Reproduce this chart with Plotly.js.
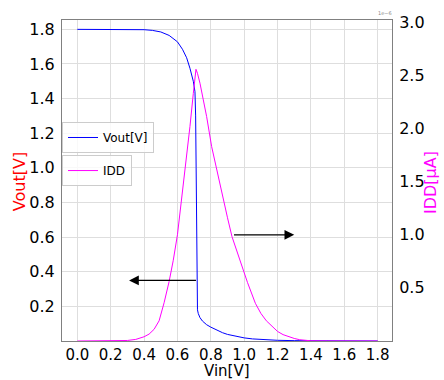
<!DOCTYPE html>
<html>
<head>
<meta charset="utf-8">
<script src="https://cdn.plot.ly/plotly-3.0.1.min.js"></script>
<style>html,body{margin:0;padding:0;background:#fff;}#chart{width:444px;height:380px;}</style>
</head>
<body>
<div id="chart"></div>
<script>
// Vout transfer curve
const vinVout = [0, 0.1, 0.2, 0.3, 0.4, 0.45, 0.5, 0.55, 0.6, 0.63, 0.655, 0.675, 0.695, 0.705, 0.709, 0.712, 0.715, 0.717, 0.72, 0.725, 0.735, 0.75, 0.775, 0.8, 0.835, 0.87, 0.9, 0.95, 1.0, 1.05, 1.1, 1.2, 1.3, 1.4, 1.5, 1.6, 1.7, 1.8];
const vout    = [1.8, 1.8, 1.8, 1.8, 1.798, 1.794, 1.785, 1.765, 1.728, 1.685, 1.636, 1.575, 1.50, 1.44, 1.30, 1.0, 0.5, 0.22, 0.18, 0.158, 0.135, 0.115, 0.094, 0.08, 0.063, 0.048, 0.038, 0.026, 0.018, 0.012, 0.008, 0.004, 0.002, 0.001, 0.0005, 0.0003, 0.0002, 0.0001];
// Supply current (µA)
const vinIdd = [0, 0.1, 0.2, 0.3, 0.35, 0.4, 0.43, 0.46, 0.49, 0.52, 0.55, 0.575, 0.6, 0.632, 0.655, 0.675, 0.695, 0.705, 0.711, 0.72, 0.735, 0.755, 0.775, 0.805, 0.835, 0.867, 0.9, 0.927, 0.95, 0.987, 1.02, 1.067, 1.1, 1.133, 1.167, 1.2, 1.233, 1.267, 1.3, 1.333, 1.366, 1.4, 1.5, 1.6, 1.7, 1.8];
const idd    = [0, 0.0005, 0.001, 0.005, 0.015, 0.04, 0.065, 0.11, 0.19, 0.36, 0.56, 0.76, 1.0, 1.42, 1.76, 2.02, 2.33, 2.48, 2.558, 2.52, 2.427, 2.27, 2.112, 1.83, 1.61, 1.39, 1.16, 0.982, 0.87, 0.70, 0.55, 0.355, 0.26, 0.19, 0.135, 0.09, 0.06, 0.04, 0.024, 0.012, 0.005, 0.002, 0.0005, 0.0002, 0.0001, 0];
const xTicks = [0, 0.2, 0.4, 0.6, 0.8, 1.0, 1.2, 1.4, 1.6, 1.8];
const yTicks = [0.2, 0.4, 0.6, 0.8, 1.0, 1.2, 1.4, 1.6, 1.8];
const y2Ticks = [0.5, 1.0, 1.5, 2.0, 2.5, 3.0];

const F = 'DejaVu Sans, sans-serif';
const traces = [
  {x: vinVout, y: vout, type: 'scatter', mode: 'lines', name: 'Vout[V]',
   line: {color: '#0000ff', width: 1}, yaxis: 'y', legend: 'legend'},
  {x: vinIdd, y: idd, type: 'scatter', mode: 'lines', name: 'IDD',
   line: {color: '#ff00ff', width: 1}, yaxis: 'y2', legend: 'legend2'}
];
const axisCommon = {showline: true, linecolor: '#808080', linewidth: 1, zeroline: false,
  ticks: 'outside', ticklen: 3, tickcolor: 'rgba(0,0,0,0)', automargin: false,
  tickfont: {family: F, size: 16, color: '#000'}};
const layout = {
  width: 444, height: 380,
  margin: {l: 62, r: 52, t: 20, b: 39},
  paper_bgcolor: '#fff', plot_bgcolor: '#fff',
  font: {family: F},
  xaxis: Object.assign({}, axisCommon, {range: [-0.092, 1.886], tickvals: xTicks, ticks: '',
    tickfont: {family: F, size: 15, color: '#000'},
    ticktext: xTicks.map(v => v.toFixed(1)), mirror: true, showgrid: true, gridcolor: '#dedede'}),
  yaxis: Object.assign({}, axisCommon, {range: [0, 1.854], tickvals: yTicks,
    ticktext: yTicks.map(v => v.toFixed(1)), showgrid: true, gridcolor: '#dedede'}),
  yaxis2: Object.assign({}, axisCommon, {range: [0, 3.022], tickvals: y2Ticks,
    ticktext: y2Ticks.map(v => v.toFixed(1)), overlaying: 'y', side: 'right', showgrid: false}),
  showlegend: true,
  legend: {x: 0, xanchor: 'left', y: 0.634, yanchor: 'middle', bgcolor: 'rgba(255,255,255,0.8)',
    bordercolor: '#cccccc', borderwidth: 1, font: {family: F, size: 12, color: '#000'}},
  legend2: {x: 0, xanchor: 'left', y: 0.531, yanchor: 'middle', bgcolor: 'rgba(255,255,255,0.8)',
    bordercolor: '#cccccc', borderwidth: 1, font: {family: F, size: 12, color: '#000'}},
  annotations: [
    {x: 0.31, y: 0.35, xref: 'x', yref: 'y', ax: 0.72, ay: 0.35, axref: 'x', ayref: 'y',
     showarrow: true, arrowhead: 2, arrowsize: 1.5, arrowwidth: 1.3, arrowcolor: '#000', text: ''},
    {x: 1.3, y: 1.0, xref: 'x', yref: 'y2', ax: 0.93, ay: 1.0, axref: 'x', ayref: 'y2',
     showarrow: true, arrowhead: 2, arrowsize: 1.5, arrowwidth: 1.3, arrowcolor: '#000', text: ''},
    {x: 0.979, y: 1.005, xref: 'paper', yref: 'paper', text: '1e−6', showarrow: false,
     xanchor: 'center', yanchor: 'bottom', font: {family: F, size: 5, color: '#888'}},
    // axis titles
    {x: 0.5, y: -0.094, xref: 'paper', yref: 'paper', text: 'Vin[V]', showarrow: false,
     xanchor: 'center', yanchor: 'middle', font: {family: F, size: 15, color: '#000'}},
    {x: -0.13, y: 0.495, xref: 'paper', yref: 'paper', text: 'Vout[V]', showarrow: false, textangle: -90,
     xanchor: 'center', yanchor: 'middle', font: {family: F, size: 16, color: '#ff0000'}},
    {x: 1.115, y: 0.495, xref: 'paper', yref: 'paper', text: 'IDD[μA]', showarrow: false, textangle: -90,
     xanchor: 'center', yanchor: 'middle', font: {family: F, size: 16, color: '#ff00ff'}}
  ]
};
Plotly.newPlot('chart', traces, layout, {staticPlot: true, displayModeBar: false});
</script>
</body>
</html>
